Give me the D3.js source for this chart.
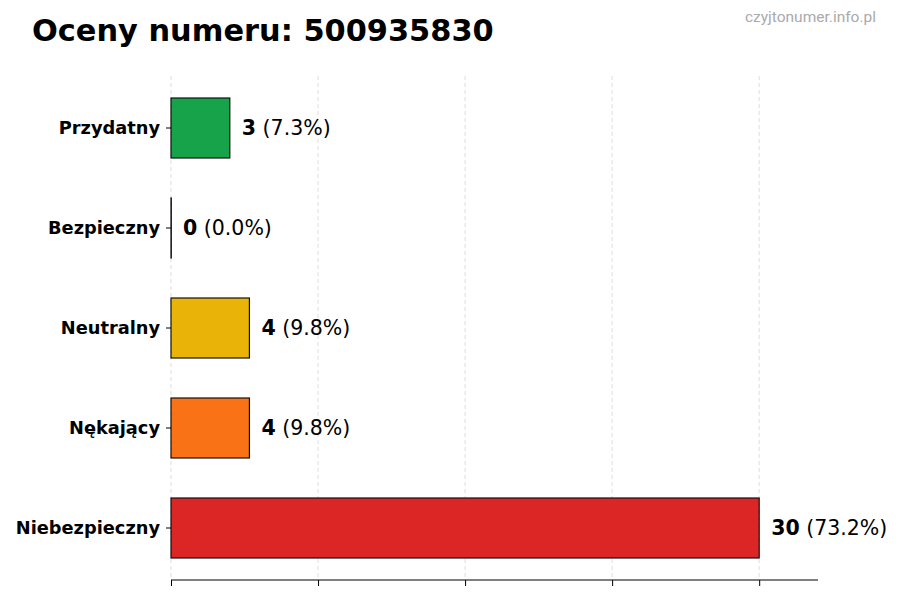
<!DOCTYPE html>
<html>
<head>
<meta charset="utf-8">
<script src="https://cdn.jsdelivr.net/npm/d3@7"></script>
<style>
  body { margin: 0; background: #fff; }
  svg { display: block; }
</style>
</head>
<body>
<div id="viz"></div>
<script>
// chart data
var categories = ["Przydatny", "Bezpieczny", "Neutralny", "Nękający", "Niebezpieczny"];
var counts     = [3, 0, 4, 4, 30];
var barColors  = ["#16a34a", "#9ca3af", "#eab308", "#f97316", "#dc2626"];
var gridTicks  = [0, 7.5, 15, 22.5, 30];

var width = 900, height = 600;
var margin = ({top: 78, right: 82, bottom: 20, left: 171});

var total = d3.sum(counts);

const svg = d3.select("#viz")
              .append("svg")
              .attr("width", width)
              .attr("height", height)
              .style("font-family", "'DejaVu Sans', sans-serif");

svg.append("rect")
   .attr("width", width)
   .attr("height", height)
   .attr("fill", "#fff");

// scales
var x = d3.scaleLinear()
          .domain([0, d3.max(counts) * 1.1])
          .range([margin.left, width - margin.right]);

var y = d3.scaleBand()
          .domain(categories)
          .range([margin.top, 578])
          .paddingInner(0.4)
          .paddingOuter(0.2);

// vertical dashed grid
svg.append("g")
   .selectAll("line")
   .data(gridTicks)
   .enter()
   .append("line")
   .attr("x1", d => x(d))
   .attr("x2", d => x(d))
   .attr("y1", margin.top - 2)
   .attr("y2", 580)
   .attr("stroke", "#d4d4d4")
   .attr("stroke-width", 0.8)
   .attr("stroke-dasharray", "4,3");

// bars (zero values still get a hairline like the original)
svg.append("g")
   .selectAll("rect")
   .data(categories)
   .enter()
   .append("rect")
   .attr("x", x(0))
   .attr("y", d => y(d))
   .attr("width", (d, i) => Math.max(x(counts[i]) - x(0), 0.3))
   .attr("height", y.bandwidth())
   .attr("fill", (d, i) => barColors[i])
   .attr("stroke", "#111")
   .attr("stroke-width", 1.2);

// value labels
var labels = svg.append("g")
   .selectAll("text")
   .data(categories)
   .enter()
   .append("text")
   .attr("x", (d, i) => x(counts[i]) + 12)
   .attr("y", d => y(d) + y.bandwidth() / 2)
   .attr("dy", "0.35em")
   .attr("font-size", "20.5px")
   .attr("fill", "#000");

labels.append("tspan")
      .attr("font-weight", "bold")
      .text((d, i) => counts[i]);
labels.append("tspan")
      .text((d, i) => " (" + (counts[i] / total * 100).toFixed(1) + "%)");

// y axis (labels + small ticks, no spine)
var yAx = svg.append("g")
   .attr("transform", "translate(" + margin.left + ",0)")
   .call(d3.axisLeft(y).tickSize(5).tickPadding(6));
yAx.select(".domain").remove();
yAx.selectAll("text")
   .style("font-family", "'DejaVu Sans', sans-serif")
   .style("font-size", "17.8px")
   .style("font-weight", "bold")
   .attr("fill", "#000");

// x axis (ticks only, no labels)
var xAx = svg.append("g")
   .attr("transform", "translate(0,580)")
   .call(d3.axisBottom(x).tickValues(gridTicks).tickSize(6).tickFormat(""));
xAx.select(".domain")
   .attr("d", "M" + x(0) + ",0H" + (width - margin.right));

// title
svg.append("text")
   .attr("x", 32)
   .attr("y", 41)
   .attr("font-size", "30.4px")
   .attr("font-weight", "bold")
   .attr("fill", "#000")
   .text("Oceny numeru: 500935830");

// watermark
svg.append("text")
   .attr("x", 876)
   .attr("y", 22)
   .attr("text-anchor", "end")
   .attr("font-family", "'Liberation Sans Narrow', 'Roboto', sans-serif")
   .attr("font-size", "15.5px")
   .attr("fill", "#aaa")
   .text("czyjtonumer.info.pl");
</script>
</body>
</html>
